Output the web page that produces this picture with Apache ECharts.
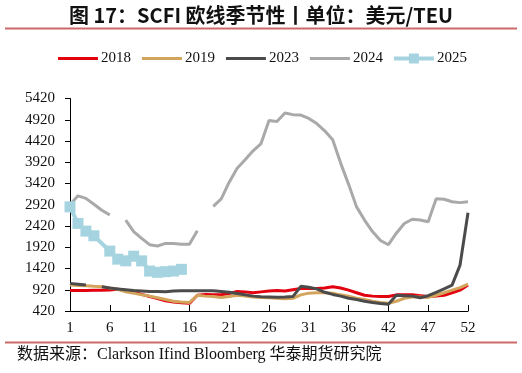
<!DOCTYPE html>
<html>
<head>
<meta charset="utf-8">
<script src="https://cdn.jsdelivr.net/npm/echarts@6/dist/echarts.min.js"></script>
<style>
html,body{margin:0;padding:0;background:#fff;}
#chart{width:522px;height:373px;}
</style>
</head>
<body>
<div id="chart"></div>
<script>
// Week labels (51 categories as in the source axis)
var weeks = [1,2,3,4,5,6,7,8,9,10,11,12,13,14,15,16,17,18,19,20,21,22,23,24,25,26,27,28,29,30,31,32,33,34,35,36,38,39,40,41,42,43,44,45,46,47,48,49,50,51,52];

var s2018 = [900,905,905,910,910,915,930,900,860,810,760,710,660,630,615,600,790,810,800,800,830,880,870,850,870,890,900,890,920,950,950,950,960,990,960,910,850,790,770,760,760,800,800,800,780,760,770,790,850,910,1030];
var s2019 = [1030,1020,1015,1000,990,960,930,870,840,800,770,730,690,650,630,620,790,770,760,740,760,790,770,750,740,730,720,710,720,800,840,850,850,840,800,770,720,690,650,620,600,650,720,750,750,740,790,850,910,970,1050];
var s2023 = [1070,1050,1030,null,990,960,940,920,900,890,880,880,875,890,895,895,895,895,895,880,860,830,800,770,755,750,745,750,760,1000,980,940,860,810,770,720,690,650,620,595,580,790,780,770,730,780,860,940,1030,1500,2730];
var s2024 = [2920,3130,3070,2930,2790,2680,null,2560,2290,2130,1980,1950,2010,2010,1990,1990,2310,null,2880,3060,3450,3780,3980,4190,4360,4900,4880,5080,5040,5030,4950,4830,4660,4450,3900,3400,2870,2560,2290,2080,1980,2250,2480,2580,2560,2520,3060,3050,2990,2970,2990];
var s2025 = [2870,2480,2300,2190,null,1830,1640,1600,1710,1600,1360,1330,1345,1360,1400];

var seriesNames = ['2018','2019','2023','2024','2025'];

var titleText = '图 17：SCFI 欧线季节性丨单位：美元/TEU';
var sourceText = '数据来源：Clarkson Ifind Bloomberg 华泰期货研究院';

var chart = echarts.init(document.getElementById('chart'), null, {renderer:'canvas'});
var serif = "'Liberation Serif','Times New Roman',serif";

function lineSeries(name, data, color, width, extra) {
  var s = {
    name: name, type: 'line', data: data,
    symbol: 'none', showSymbol: false,
    lineStyle: {color: color, width: width},
    itemStyle: {color: color},
    emphasis: {disabled: true},
    animation: false
  };
  if (extra) for (var k in extra) s[k] = extra[k];
  return s;
}

var lineIcon = 'path://M0,3.5 L40,3.5 L40,6.5 L0,6.5 Z M0,0 L0,0.01 M40,10 L40,10.01';
var markIcon = 'path://M0,3 L40,3 L40,7 L0,7 Z M15,0 L25,0 L25,10 L15,10 Z';

var option = {
  animation: false,
  backgroundColor: '#fff',
  title: {
    text: titleText,
    left: 'center',
    top: 0,
    textStyle: {fontFamily: "'Noto Sans CJK SC'", fontWeight: 'bold', fontSize: 20, color: '#111'}
  },
  legend: {
    data: [
      {name: '2018', icon: lineIcon},
      {name: '2019', icon: lineIcon},
      {name: '2023', icon: lineIcon},
      {name: '2024', icon: lineIcon},
      {name: '2025', icon: markIcon}
    ],
    top: 46,
    left: 53,
    itemWidth: 40,
    itemHeight: 10,
    itemGap: 11,
    textStyle: {fontFamily: serif, fontSize: 15, color: '#111', padding: [0,0,0,-2]}
  },
  grid: {left: 70, right: 54, top: 98.5, bottom: 62, containLabel: false},
  xAxis: {
    type: 'category',
    data: weeks,
    boundaryGap: false,
    axisLine: {lineStyle: {color: '#000', width: 1}},
    axisTick: {inside: true, length: 6, interval: 4, lineStyle: {color: '#000'}},
    axisLabel: {interval: 4, fontFamily: serif, fontSize: 15, color: '#111', margin: 10},
    splitLine: {show: false}
  },
  yAxis: {
    type: 'value',
    min: 420, max: 5420, interval: 500,
    axisLine: {show: true, lineStyle: {color: '#000', width: 1}},
    axisTick: {show: true, inside: false, length: 5, lineStyle: {color: '#000'}},
    axisLabel: {fontFamily: serif, fontSize: 15, color: '#111', margin: 15, formatter: function (v) { return String(v); }},
    splitLine: {show: false}
  },
  series: [
    lineSeries('2018', s2018, '#e3000f', 3),
    lineSeries('2019', s2019, '#d3a55c', 3),
    lineSeries('2023', s2023, '#4b4b4b', 3),
    lineSeries('2024', s2024, '#a9a9a9', 3),
    lineSeries('2025', s2025, '#a5d4e0', 4, {symbol: 'rect', symbolSize: 11, showSymbol: true, showAllSymbol: true, connectNulls: true})
  ],
  graphic: [
    {type: 'line', shape: {x1: 5, y1: 28.5, x2: 517, y2: 28.5}, style: {stroke: '#cc6a6a', lineWidth: 2}},
    {type: 'line', shape: {x1: 5, y1: 342.5, x2: 517, y2: 342.5}, style: {stroke: '#cc6a6a', lineWidth: 2}},
    {type: 'text', left: 17, top: 347, style: {text: sourceText, font: "16px 'Liberation Serif','Noto Sans CJK SC'", fill: '#111'}}
  ]
};
chart.setOption(option);
</script>
</body>
</html>
